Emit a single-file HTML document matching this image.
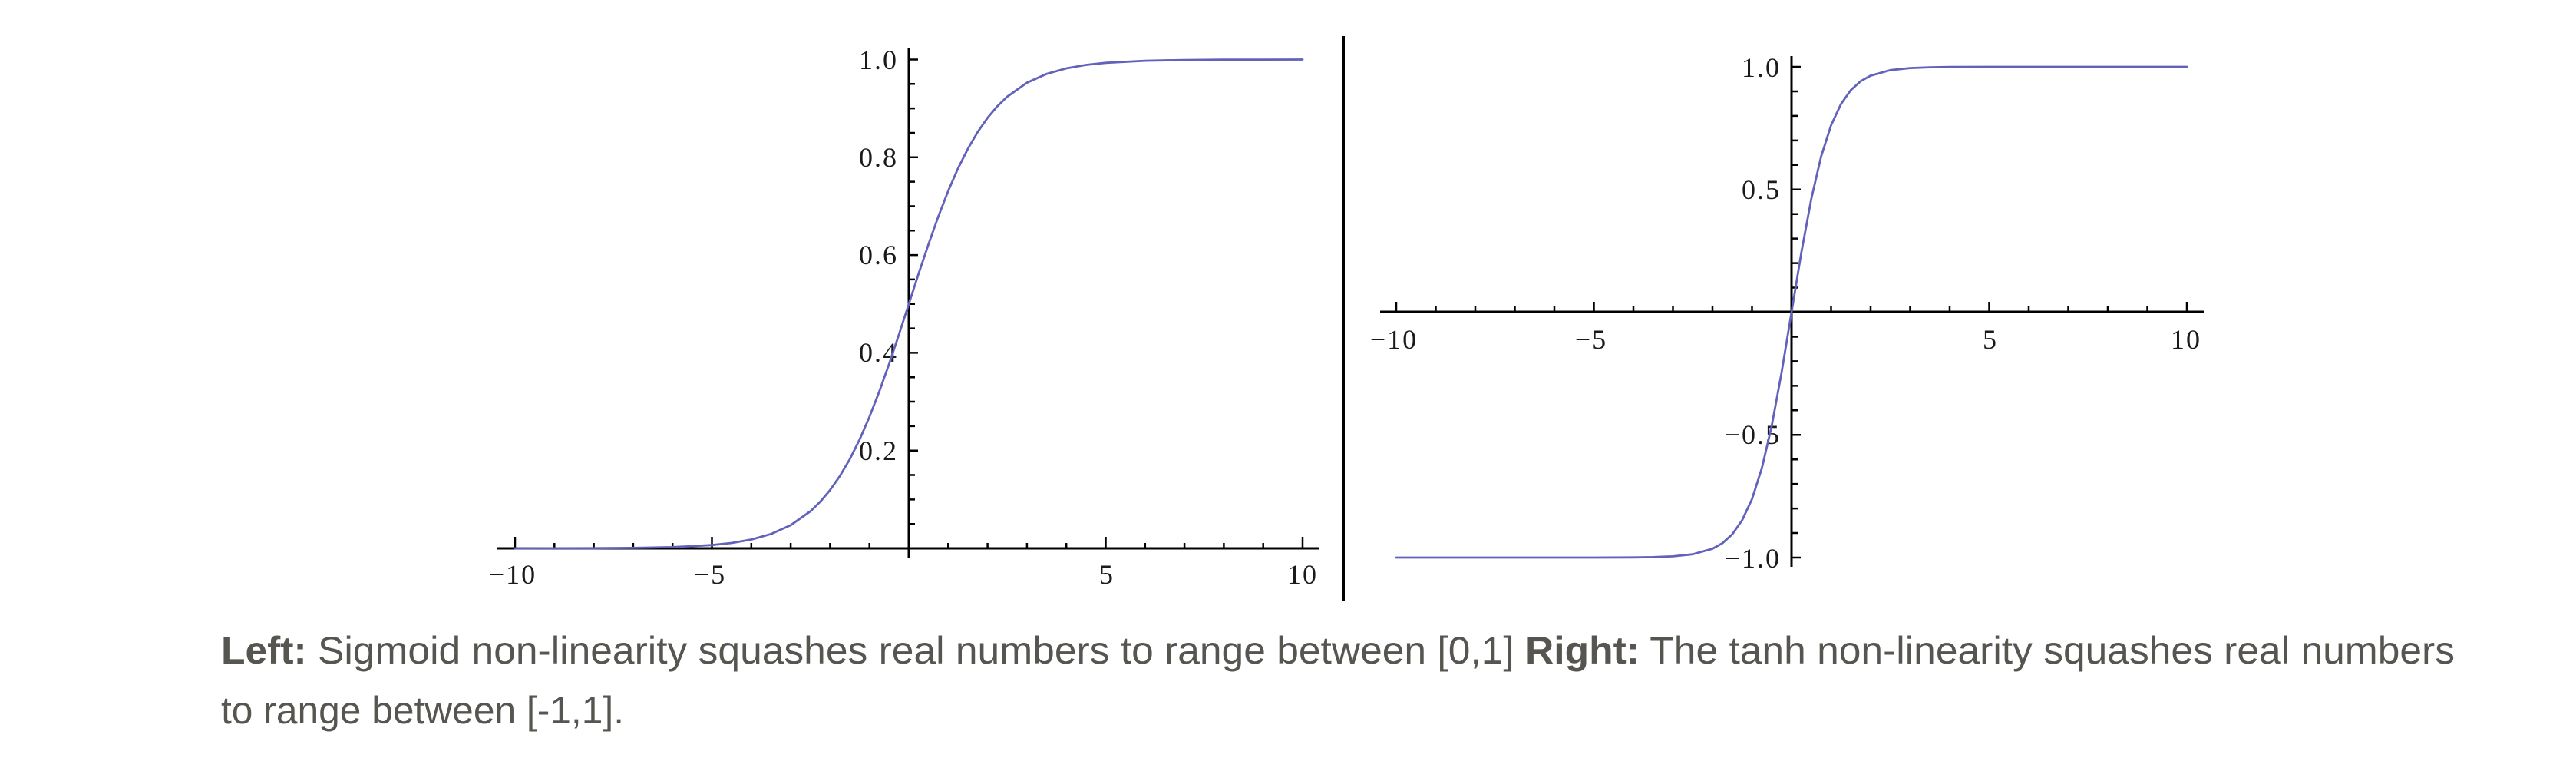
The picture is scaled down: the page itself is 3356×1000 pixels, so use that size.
<!DOCTYPE html>
<html>
<head>
<meta charset="utf-8">
<style>
html,body{margin:0;padding:0;background:#fff;}
body{width:3356px;height:1000px;overflow:hidden;}
svg{display:block;}
.lab{font-family:"Liberation Serif",serif;font-size:36px;fill:#1a1a1a;letter-spacing:2px;}
.cap{font-family:"Liberation Sans",sans-serif;font-size:50px;fill:#57554f;}
</style>
</head>
<body>
<svg width="3356" height="1000" viewBox="0 0 3356 1000" xmlns="http://www.w3.org/2000/svg">
<rect width="3356" height="1000" fill="#fff"/>

<!-- ===== LEFT: sigmoid ===== -->
<g stroke="#000" stroke-width="3" fill="none">
  <line x1="648" y1="714" x2="1719" y2="714"/>
  <line x1="1184" y1="62" x2="1184" y2="727"/>
</g>
<!-- x ticks -->
<path stroke="#000" stroke-width="2.5" fill="none" d="
M671 714V699 M722.3 714V707 M773.6 714V707 M824.9 714V707 M876.2 714V707 M927.5 714V699
M978.8 714V707 M1030.1 714V707 M1081.4 714V707 M1132.7 714V707
M1235.3 714V707 M1286.6 714V707 M1337.9 714V707 M1389.2 714V707 M1440.5 714V699
M1491.8 714V707 M1543.1 714V707 M1594.4 714V707 M1645.7 714V707 M1697 714V699"/>
<!-- y ticks -->
<path stroke="#000" stroke-width="2.5" fill="none" d="
M1184 682.2H1192 M1184 650.35H1192 M1184 618.5H1192 M1184 586.7H1196
M1184 554.9H1192 M1184 523.05H1192 M1184 491.2H1192 M1184 459.4H1196
M1184 427.6H1192 M1184 395.75H1192 M1184 363.9H1192 M1184 332.1H1196
M1184 300.3H1192 M1184 268.45H1192 M1184 236.6H1192 M1184 204.8H1196
M1184 173H1192 M1184 141.15H1192 M1184 109.3H1192 M1184 77.5H1196"/>
<!-- x labels -->
<g class="lab" text-anchor="middle">
  <text x="668" y="760">−10</text>
  <text x="925" y="760">−5</text>
  <text x="1442" y="760">5</text>
  <text x="1697" y="760">10</text>
</g>
<!-- y labels -->
<g class="lab" text-anchor="end">
  <text x="1170" y="599">0.2</text>
  <text x="1170" y="471">0.4</text>
  <text x="1170" y="344">0.6</text>
  <text x="1170" y="217">0.8</text>
  <text x="1170" y="90">1.0</text>
</g>
<!-- sigmoid curve -->
<polyline fill="none" stroke="#6262bb" stroke-width="2.8" stroke-linejoin="round" stroke-linecap="round" points="
671,714 722.3,713.9 773.6,713.8 824.9,713.4 876.2,712.4 927.5,709.7 953.2,707 978.8,702.5
1004.5,695.3 1030.1,683.8 1055.8,665.7 1068.6,653.3 1081.4,638.1 1094.2,619.8 1107.1,597.9
1119.9,572.3 1132.7,542.8 1145.5,509.8 1158.4,473.7 1171.2,435.3 1184,395.75 1196.8,356.2
1209.7,317.8 1222.5,281.7 1235.3,248.7 1248.1,219.2 1261,193.6 1273.8,171.7 1286.6,153.4
1299.4,138.2 1312.3,125.8 1337.9,107.7 1363.6,96.2 1389.2,89 1414.9,84.5 1440.5,81.8
1491.8,79.1 1543.1,78.1 1594.4,77.7 1645.7,77.6 1697,77.5"/>

<!-- separator -->
<line x1="1750.5" y1="47" x2="1750.5" y2="782" stroke="#000" stroke-width="3"/>

<!-- ===== RIGHT: tanh ===== -->
<g stroke="#000" stroke-width="3" fill="none">
  <line x1="1798" y1="406" x2="2871" y2="406"/>
  <line x1="2334" y1="73" x2="2334" y2="738"/>
</g>
<path stroke="#000" stroke-width="2.5" fill="none" d="
M1819 406V393 M1870.5 406V398 M1922 406V398 M1973.5 406V398 M2025 406V398 M2076.5 406V393
M2128 406V398 M2179.5 406V398 M2231 406V398 M2282.5 406V398
M2385.5 406V398 M2437 406V398 M2488.5 406V398 M2540 406V398 M2591.5 406V393
M2643 406V398 M2694.5 406V398 M2746 406V398 M2797.5 406V398 M2849 406V393"/>
<path stroke="#000" stroke-width="2.5" fill="none" d="
M2334 87H2346 M2334 118.95H2342 M2334 150.9H2342 M2334 182.85H2342 M2334 214.8H2342
M2334 246.75H2346 M2334 278.7H2342 M2334 310.65H2342 M2334 342.6H2342 M2334 374.55H2342
M2334 438.45H2342 M2334 470.4H2342 M2334 502.35H2342 M2334 534.3H2342 M2334 566.25H2346
M2334 598.2H2342 M2334 630.15H2342 M2334 662.1H2342 M2334 694.05H2342 M2334 726H2346"/>
<g class="lab" text-anchor="middle">
  <text x="1816" y="454">−10</text>
  <text x="2073" y="454">−5</text>
  <text x="2593" y="454">5</text>
  <text x="2848" y="454">10</text>
</g>
<g class="lab" text-anchor="end">
  <text x="2320" y="100">1.0</text>
  <text x="2320" y="259">0.5</text>
  <text x="2320" y="578">−0.5</text>
  <text x="2320" y="739">−1.0</text>
</g>
<polyline fill="none" stroke="#6262bb" stroke-width="2.8" stroke-linejoin="round" stroke-linecap="round" points="
1819,726 2076.5,726 2128,725.8 2153.75,725.4 2179.5,724.4 2205.25,721.7 2231,714.5
2243.9,707.3 2256.75,695.7 2269.6,677.5 2282.5,649.8 2295.4,609.4 2308.25,554.15
2321.1,484.75 2334,406.5 2346.9,328.25 2359.75,258.85 2372.6,203.6 2385.5,163.2
2398.4,135.5 2411.25,117.3 2424.1,105.7 2437,98.5 2462.75,91.3 2488.5,88.6 2514.25,87.6
2540,87.2 2591.5,87 2849,87"/>

<!-- ===== caption ===== -->
<text class="cap" x="288" y="864" textLength="2910" lengthAdjust="spacingAndGlyphs"><tspan font-weight="bold">Left:</tspan> Sigmoid non-linearity squashes real numbers to range between [0,1] <tspan font-weight="bold">Right:</tspan> The tanh non-linearity squashes real numbers</text>
<text class="cap" x="288" y="942" textLength="525" lengthAdjust="spacingAndGlyphs">to range between [-1,1].</text>
</svg>
</body>
</html>
